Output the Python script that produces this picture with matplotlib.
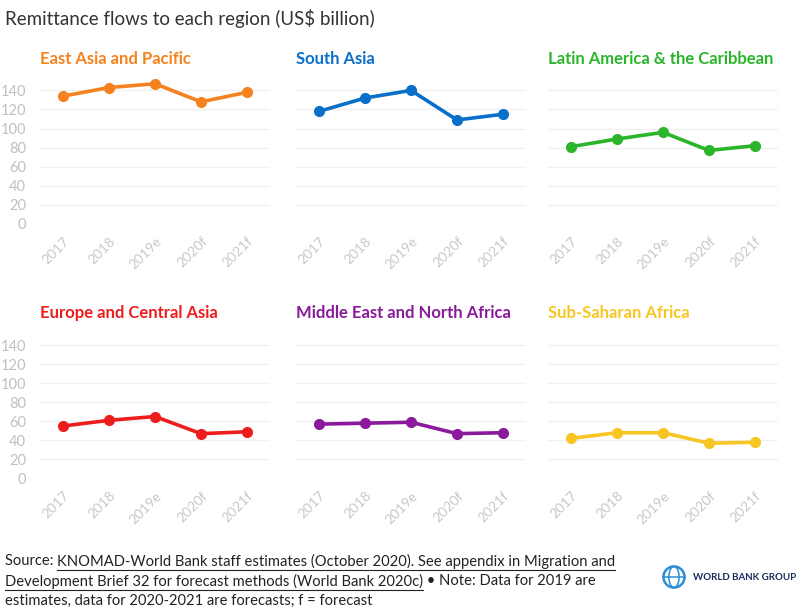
import matplotlib.pyplot as plt
from matplotlib.patches import Circle, Ellipse

# data (US$ billion)
years = ["2017", "2018", "2019e", "2020f", "2021f"]
east_asia = [134, 143, 147, 128, 138]
south_asia = [118, 132, 140, 109, 115]
latin_america = [81, 89, 96, 77, 82]
europe = [55, 61, 65, 47, 49]
middle_east = [57, 58, 59, 47, 48]
sub_saharan = [42, 48, 48, 37, 38]

regions = ["East Asia and Pacific", "South Asia", "Latin America & the Caribbean",
           "Europe and Central Asia", "Middle East and North Africa", "Sub-Saharan Africa"]
series = [east_asia, south_asia, latin_america, europe, middle_east, sub_saharan]
colors = ["#f5821f", "#0a6fc9", "#2bb52b", "#ee1d1d", "#8a1a9b", "#f7c623"]
yticks = [0, 20, 40, 60, 80, 100, 120, 140]

plt.rcParams['font.family'] = ['Lato', 'DejaVu Sans']

fig = plt.figure(figsize=(8, 6.15), dpi=100)

lefts = [0.05, 0.37, 0.685]
bottoms = [0.636, 0.222]
w, h = 0.2875, 0.2325

for i in range(6):
    row, col = divmod(i, 3)
    ax = fig.add_axes([lefts[col], bottoms[row], w, h])
    x = range(len(years))
    ax.plot(x, series[i], color=colors[i], lw=2.6, marker="o", ms=7, zorder=3,
            clip_on=False)
    ax.set_xlim(-0.5, 4.5)
    ax.set_ylim(0, 150)
    ax.set_yticks(yticks)
    ax.set_xticks(list(x))
    ax.set_xticklabels(years, rotation=45, ha="right", rotation_mode="anchor",
                       color="#c8c8c8", fontsize=10)
    ax.grid(axis="y", color="#f0f0f0", lw=1)
    ax.set_axisbelow(True)
    for s in ax.spines.values():
        s.set_visible(False)
    ax.tick_params(axis="both", length=0, pad=4)
    ax.tick_params(axis="x", pad=8)
    if col == 0:
        ax.set_yticklabels([str(t) for t in yticks], color="#c0c0c0", fontsize=10.5)
        ax.tick_params(axis="y", pad=10)
    else:
        ax.set_yticklabels([])
    ax.text(0.0, 1.10, regions[i], transform=ax.transAxes,
            color=colors[i], fontsize=12, fontweight="bold", ha="left", va="bottom")

fig.text(5 / 800, 1 - 18 / 615, "Remittance flows to each region (US$ billion)",
         fontsize=13.5, color="#333333", ha="left", va="center")

# footer with underlined link text
fs = 10.6
foot_col = "#222222"
fig.canvas.draw()
r = fig.canvas.get_renderer()


def put(xpix, ypix, s, underline=False):
    t = fig.text(xpix / 800, 1 - ypix / 615, s, fontsize=fs, color=foot_col,
                 ha="left", va="center")
    bb = t.get_window_extent(renderer=r)
    if underline:
        yl = (bb.y0 - 1) / fig.bbox.height
        fig.add_artist(plt.Line2D([bb.x0 / fig.bbox.width, bb.x1 / fig.bbox.width],
                                  [yl, yl], color=foot_col, lw=0.8))
    return bb.x1 * 800 / fig.bbox.width


x1 = put(5, 561, "Source: ")
put(x1, 561, "KNOMAD-World Bank staff estimates (October 2020). See appendix in Migration and",
    underline=True)
x2 = put(5, 581, "Development Brief 32 for forecast methods (World Bank 2020c)", underline=True)
put(x2, 581, " \u2022 Note: Data for 2019 are")
put(5, 601, "estimates, data for 2020-2021 are forecasts; f = forecast")

# World Bank Group logo (simple)
lax = fig.add_axes([655 / 800, 1 - 594 / 615, 38 / 800, 34 / 615])
lax.set_xlim(-1, 1)
lax.set_ylim(-1, 1)
lax.set_aspect("equal")
lax.axis("off")
lax.add_patch(Circle((0, 0), 0.62, fill=False, ec="#2a8fd4", lw=1.8))
lax.add_patch(Ellipse((0, 0), 0.6, 1.24, fill=False, ec="#2a8fd4", lw=1.1))
lax.plot([-0.62, 0.62], [0, 0], color="#2a8fd4", lw=1.1)
fig.text(693 / 800, 1 - 577 / 615, "WORLD BANK GROUP", fontsize=7, fontweight="bold",
         color="#1d2b5c", ha="left", va="center")

fig.savefig("out.png", dpi=100, facecolor="white")
